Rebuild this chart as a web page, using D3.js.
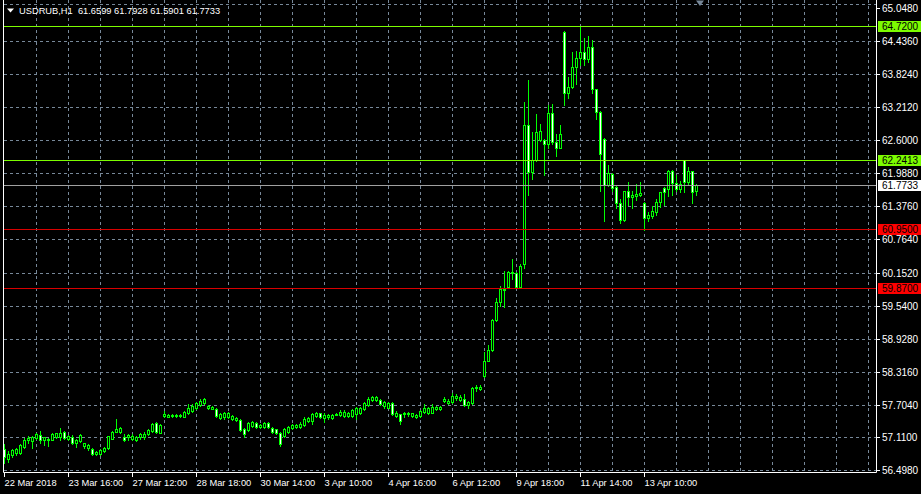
<!DOCTYPE html>
<html><head><meta charset="utf-8">
<script src="https://cdn.jsdelivr.net/npm/d3@7"></script>
<style>html,body{margin:0;padding:0;background:#000;overflow:hidden}</style>
</head><body>
<svg id="c" width="921" height="494"></svg>
<script>
// ---- data ----
const symbolTitle = "USDRUB,H1";
const lastQuote = [61.6599, 61.7928, 61.5901, 61.7733];
const openP = [56.89,56.70,56.77,56.81,56.82,56.93,57.05,57.04,57.09,57.15,57.05,57.05,57.06,57.11,57.10,57.20,57.07,57.10,57.00,57.04,
56.94,56.90,56.89,56.79,56.79,56.85,56.90,57.08,57.21,57.21,57.11,57.10,57.08,57.06,57.10,57.11,57.16,57.22,57.36,57.19,
57.49,57.48,57.49,57.49,57.49,57.48,57.56,57.59,57.64,57.70,57.73,57.64,57.63,57.62,57.46,57.47,57.48,57.44,57.42,57.43,
57.25,57.24,57.31,57.36,57.30,57.30,57.37,57.28,57.25,57.19,57.13,57.21,57.27,57.30,57.30,57.33,57.41,57.41,57.50,57.55,
57.46,57.47,57.46,57.52,57.51,57.50,57.49,57.50,57.53,57.56,57.62,57.70,57.79,57.79,57.80,57.69,57.65,57.73,57.50,57.53,
57.53,57.54,57.49,57.48,57.49,57.58,57.56,57.56,57.62,57.62,57.77,57.74,57.75,57.83,57.80,57.81,57.70,57.73,58.01,57.99,
58.24,58.52,58.72,59.28,59.60,59.82,59.88,60.14,60.15,59.88,60.31,62.88,62.01,62.23,62.60,62.61,62.54,63.10,62.57,62.46,
64.60,63.47,63.58,63.95,64.12,64.24,64.10,64.33,63.54,63.13,62.63,61.77,61.98,61.73,61.44,61.12,61.66,61.55,61.57,61.58,
61.44,61.17,61.19,61.27,61.46,61.71,61.70,62.04,61.81,61.69,62.2413,61.82,62.03,61.6599];
const highP = [56.98,56.85,56.89,56.91,56.98,57.09,57.13,57.13,57.18,57.22,57.11,57.09,57.18,57.19,57.28,57.22,57.15,57.14,57.07,57.16,
57.00,56.98,56.91,56.85,56.88,56.93,57.13,57.22,57.44,57.30,57.17,57.16,57.16,57.13,57.18,57.20,57.25,57.36,57.38,57.35,
57.59,57.53,57.53,57.53,57.54,57.59,57.72,57.72,57.75,57.81,57.83,57.70,57.69,57.64,57.55,57.58,57.58,57.52,57.47,57.44,
57.27,57.38,57.41,57.38,57.35,57.38,57.38,57.30,57.26,57.21,57.27,57.31,57.35,57.35,57.38,57.47,57.48,57.56,57.58,57.56,
57.56,57.53,57.53,57.55,57.61,57.61,57.58,57.62,57.67,57.67,57.75,57.85,57.87,57.86,57.81,57.77,57.75,57.75,57.59,57.54,
57.57,57.57,57.56,57.54,57.61,57.72,57.67,57.72,57.69,57.68,57.84,57.81,57.92,57.91,57.89,57.91,57.78,58.03,58.08,58.07,
58.69,58.82,59.30,59.68,59.91,60.18,60.19,60.41,60.16,60.31,63.31,63.71,62.75,63.08,62.90,62.63,63.25,63.28,62.71,62.88,
64.62,63.77,64.24,64.26,64.72,64.49,64.53,64.45,63.55,63.14,62.64,62.14,61.99,61.77,61.52,61.67,61.82,61.67,61.80,61.82,
61.46,61.27,61.38,61.52,61.65,61.73,62.05,62.05,61.95,61.84,62.2413,62.11,62.04,61.7928];
const lowP = [56.62,56.65,56.74,56.77,56.79,56.91,57.00,56.91,57.07,56.99,56.96,56.94,57.05,57.09,57.05,57.07,57.05,56.98,56.93,57.02,
56.91,56.86,56.77,56.77,56.77,56.84,56.88,57.07,57.21,57.19,57.04,57.05,57.06,57.04,57.08,57.07,57.14,57.20,57.19,57.18,
57.47,57.47,57.48,57.48,57.47,57.47,57.54,57.58,57.62,57.69,57.72,57.62,57.62,57.48,57.44,57.45,57.46,57.42,57.41,57.22,
57.10,57.22,57.30,57.28,57.28,57.28,57.28,57.19,57.16,56.94,57.11,57.19,57.25,57.28,57.28,57.31,57.39,57.35,57.48,57.46,
57.38,57.44,57.44,57.51,57.49,57.48,57.48,57.48,57.44,57.54,57.61,57.69,57.77,57.78,57.70,57.65,57.64,57.51,57.48,57.35,
57.48,57.50,57.48,57.46,57.48,57.55,57.54,57.55,57.61,57.61,57.75,57.72,57.73,57.80,57.78,57.69,57.64,57.72,57.96,57.98,
58.21,58.51,58.70,59.26,59.54,59.51,59.86,60.04,59.87,59.87,60.23,61.58,61.89,62.22,62.59,61.95,62.45,62.54,62.30,62.45,
63.25,63.39,63.56,63.65,63.99,63.99,64.05,63.47,63.00,61.66,61.10,61.75,61.67,61.35,61.06,61.10,61.41,61.34,61.49,61.56,
60.94,61.10,61.17,61.21,61.36,61.41,61.56,61.58,61.67,61.64,61.64,61.77,61.43,61.5901];
const closeP = [56.73,56.79,56.86,56.88,56.96,57.05,57.09,57.10,57.16,57.05,57.10,57.08,57.16,57.18,57.19,57.09,57.13,56.99,57.05,57.14,
56.99,56.96,56.80,56.84,56.86,56.91,57.12,57.20,57.25,57.28,57.05,57.14,57.12,57.11,57.16,57.16,57.24,57.35,57.21,57.33,
57.54,57.52,57.52,57.52,57.52,57.58,57.65,57.69,57.73,57.78,57.81,57.69,57.67,57.50,57.53,57.56,57.56,57.50,57.46,57.24,
57.16,57.36,57.39,57.30,57.33,57.37,57.30,57.20,57.18,56.98,57.25,57.30,57.33,57.33,57.35,57.45,57.46,57.53,57.55,57.47,
57.51,57.51,57.51,57.54,57.57,57.58,57.56,57.61,57.65,57.64,57.73,57.82,57.84,57.84,57.72,57.75,57.73,57.53,57.56,57.41,
57.56,57.56,57.55,57.52,57.59,57.65,57.64,57.67,57.67,57.67,57.81,57.78,57.87,57.87,57.85,57.70,57.75,58.01,58.04,58.04,
58.52,58.72,59.28,59.61,59.84,59.85,60.17,60.17,59.88,60.28,62.88,62.01,62.23,62.75,62.77,62.54,63.10,62.57,62.46,62.71,
63.48,63.59,63.95,64.12,64.24,64.10,64.33,63.54,63.13,62.35,61.77,61.99,61.72,61.44,61.12,61.66,61.55,61.58,61.61,61.62,
61.17,61.21,61.29,61.46,61.64,61.64,62.04,61.81,61.69,61.80,61.82,62.03,61.64,61.7733];
const timeLabels = ["22 Mar 2018","23 Mar 16:00","27 Mar 12:00","28 Mar 18:00","30 Mar 14:00","3 Apr 10:00","4 Apr 16:00","6 Apr 12:00","9 Apr 18:00","11 Apr 14:00","13 Apr 10:00"];
const timeLabelBars = [0,16,32,48,64,80,96,112,128,144,160];
const priceTicks = [65.0480,64.4360,63.8240,63.2120,62.6000,61.9880,61.3760,60.7640,60.1520,59.5400,58.9280,58.3160,57.7040,57.1100,56.4980];
const levelValues = [64.7200,62.2413,61.7733,60.9500,59.8700];
const levelKinds = ["high","high","bid","low","low"];

// ---- styles ----
const levelStyle = {
  high:{line:"#7cfc00", box:"#7cfc00", text:"#000"},
  bid:{line:"#a0a0a0", box:"#ffffff", text:"#000"},
  low:{line:"#d80000", box:"#ff0000", text:"#000"}
};
const LIME="#00ff00", GRID="#778899";
const FONT="'Liberation Sans', Arial, sans-serif";

const svg = d3.select("#c");
svg.append("rect").attr("width",921).attr("height",494).attr("fill","#000");

const nBars = openP.length;
const x = d3.scaleLinear().domain([0,1]).range([4,8]);      // 4 px per bar
const y = d3.scaleLinear().domain([56.498,65.048]).range([470,8]);
const py = v => Math.round(y(v));

const plotL=4, plotR=876, plotB=472;

// grid
const g = svg.append("g");
const vIdx = d3.range(8, 218, 8);
g.selectAll("line.vg").data(vIdx).enter().append("line")
  .attr("x1",d=>x(d)+0.5).attr("x2",d=>x(d)+0.5).attr("y1",0).attr("y2",plotB)
  .attr("stroke",GRID).attr("stroke-dasharray","3,3");
// top grid line sits a little above the first label
const gridY = v => v === priceTicks[0] ? 4 : py(v);
g.selectAll("line.hg").data(priceTicks).enter().append("line")
  .attr("x1",plotL).attr("x2",plotR).attr("y1",d=>gridY(d)+0.5).attr("y2",d=>gridY(d)+0.5)
  .attr("stroke",GRID).attr("stroke-dasharray","3,3");

// candles
const bars = d3.range(nBars).map(i=>({i,o:openP[i],h:highP[i],l:lowP[i],c:closeP[i]}));
const cg = svg.append("g");
cg.selectAll("line.w").data(bars).enter().append("line")
  .attr("x1",d=>x(d.i)+0.5).attr("x2",d=>x(d.i)+0.5)
  .attr("y1",d=>py(d.h)).attr("y2",d=>py(d.l)+1)
  .attr("stroke",LIME).attr("stroke-width",1);
cg.selectAll("rect.b").data(bars).enter().append("rect")
  .attr("x",d=>x(d.i)-0.5).attr("width",2)
  .attr("y",d=>Math.min(py(d.o),py(d.c))+0.5)
  .attr("height",d=>Math.abs(py(d.o)-py(d.c)))
  .attr("fill",d=>d.c>=d.o?"#000":"#fff")
  .attr("stroke",LIME).attr("stroke-width",1);

// level lines
const lv = levelValues.map((v,k)=>({v,s:levelStyle[levelKinds[k]]}));
svg.selectAll("line.lv").data(lv).enter().append("line")
  .attr("x1",plotL).attr("x2",plotR).attr("y1",d=>py(d.v)+0.5).attr("y2",d=>py(d.v)+0.5)
  .attr("stroke",d=>d.s.line).attr("stroke-width",1);

// borders
svg.append("path").attr("d",`M3.5,0V${plotB+0.5}H${plotR+0.5}V0`)
  .attr("fill","none").attr("stroke","#fff").attr("stroke-width",1);

// right price axis
const ra = svg.append("g");
ra.selectAll("line").data(priceTicks).enter().append("line")
  .attr("x1",plotR+1).attr("x2",plotR+4).attr("y1",d=>py(d)+0.5).attr("y2",d=>py(d)+0.5)
  .attr("stroke","#fff");
ra.selectAll("text").data(priceTicks).enter().append("text")
  .attr("x",882).attr("y",d=>Math.max(py(d),8)+4)
  .attr("fill","#fff").attr("font-family",FONT).attr("font-size","10px")
  .text(d=>d.toFixed(4));

// level boxes
const lb = svg.append("g");
lb.selectAll("rect").data(lv).enter().append("rect")
  .attr("x",878).attr("width",43).attr("y",d=>py(d.v)-5).attr("height",11)
  .attr("fill",d=>d.s.box);
lb.selectAll("text").data(lv).enter().append("text")
  .attr("x",882).attr("y",d=>py(d.v)+4)
  .attr("fill",d=>d.s.text).attr("font-family",FONT).attr("font-size","10px")
  .text(d=>d.v.toFixed(4));

// time axis
const ta = svg.append("g");
ta.selectAll("line").data(timeLabelBars).enter().append("line")
  .attr("x1",d=>x(d)+0.5).attr("x2",d=>x(d)+0.5).attr("y1",plotB+1).attr("y2",plotB+5)
  .attr("stroke","#fff");
ta.selectAll("text").data(timeLabels).enter().append("text")
  .attr("x",(d,k)=>x(timeLabelBars[k])+0.5).attr("y",486)
  .attr("fill","#fff").attr("font-family",FONT).attr("font-size","9.3px")
  .text(d=>d);

// header
svg.append("path").attr("d","M7,8.5H14L10.5,12.5Z").attr("fill","#fff");
svg.append("text").attr("x",19).attr("y",14).attr("fill","#fff")
  .attr("font-family",FONT).attr("font-size","9.3px").style("white-space","pre")
  .text(symbolTitle + "  " + lastQuote.map(v=>v.toFixed(4)).join(" "));

// chart shift marker
svg.append("path").attr("d","M696,0.5H704L700,6Z").attr("fill",GRID);
</script>
</body></html>
